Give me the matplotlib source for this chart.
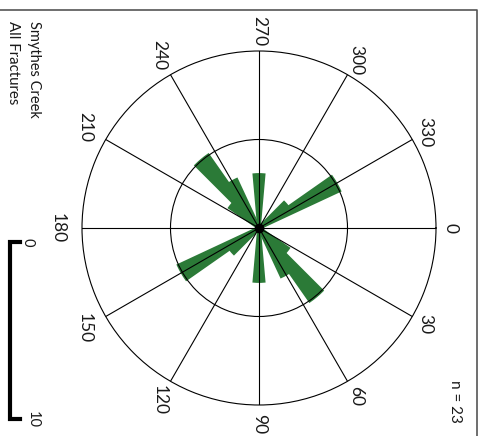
import numpy as np
import matplotlib
matplotlib.use("Agg")
import matplotlib.pyplot as plt
from matplotlib.lines import Line2D

plt.rcParams['font.family'] = ['Lato', 'DejaVu Sans']

# Fracture strike bins (degrees, 10-degree bins centred on the value) and counts
strike_bins = [40, 50, 60, 90, 140, 150]
strike_counts = [2, 5, 3, 3, 2, 5]
n_total = 23
r_max = 10
r_ring = 5
azimuth_ticks = list(range(0, 360, 30))
scale_labels = ["0", "10"]
title_lines = ["Smythes Creek", "All Fractures"]

green = "#2b7a37"
ink = "#1a1a1a"

W, H = 487, 436
fig = plt.figure(figsize=(W / 100, H / 100), dpi=100)

cx, cy, rad = 259, 228, 177
ax = fig.add_axes([(cx - rad) / W, (H - cy - rad) / H, 2 * rad / W, 2 * rad / H],
                  projection="polar")
ax.set_theta_zero_location("E")
ax.set_theta_direction(-1)
ax.set_ylim(0, r_max)

# bidirectional rose: each strike plotted at s and s + 180
theta = np.deg2rad(np.array(strike_bins + [b + 180 for b in strike_bins]))
counts = np.array(strike_counts + strike_counts)
ax.bar(theta, counts, width=np.deg2rad(10), bottom=0, align="center",
       color=green, edgecolor=green, linewidth=2.6, zorder=2)

ax.set_axisbelow(False)
ax.set_xticks(np.deg2rad(azimuth_ticks))
ax.set_xticklabels([])
ax.set_yticks([r_ring])
ax.set_yticklabels([])
ax.grid(True, color="black", linewidth=0.8)
ax.spines["polar"].set_color("black")
ax.spines["polar"].set_linewidth(0.8)
ax.tick_params(length=0)
ax.plot(0, 0, "o", color="black", ms=6, zorder=5)

for a in azimuth_ticks:
    t = np.deg2rad(a)
    r_lab = r_max * (1.11 - 0.03 * np.cos(t))
    ax.text(t, r_lab, str(a), rotation=-90, ha="center", va="center",
            fontsize=12.5, color=ink, clip_on=False)

# title and sample size
fig.text(34 / W, 1 - 21 / H, title_lines[0], rotation=-90, ha="center", va="top",
         fontsize=10.5, color=ink)
fig.text(13 / W, 1 - 21 / H, title_lines[1], rotation=-90, ha="center", va="top",
         fontsize=10.8, color=ink)
fig.text(455 / W, 1 - 380 / H, f"n = {n_total}", rotation=-90, ha="center", va="top",
         fontsize=11, color=ink)

# scale bar, length equal to r_max in the rose
bar_top = 1 - 242 / H
bar_len = (2 * rad / H) / 2
bx = 10 / W
tick = 10 / W
fig.add_artist(Line2D([bx + tick, bx, bx, bx + tick],
                      [bar_top, bar_top, bar_top - bar_len, bar_top - bar_len],
                      color="black", linewidth=3, solid_joinstyle="miter"))
fig.text(28 / W, bar_top, scale_labels[0], rotation=-90, ha="center",
         va="center", fontsize=10.5, color=ink)
fig.text(33 / W, bar_top - bar_len, scale_labels[1], rotation=-90,
         ha="center", va="center", fontsize=10.5, color=ink)

# frame
fx = 477 / W
fy = 1 - 10 / H
fig.add_artist(Line2D([0, fx, fx], [fy, fy, 0], color="#555555", linewidth=1.2))

fig.savefig("out.png", dpi=100)
